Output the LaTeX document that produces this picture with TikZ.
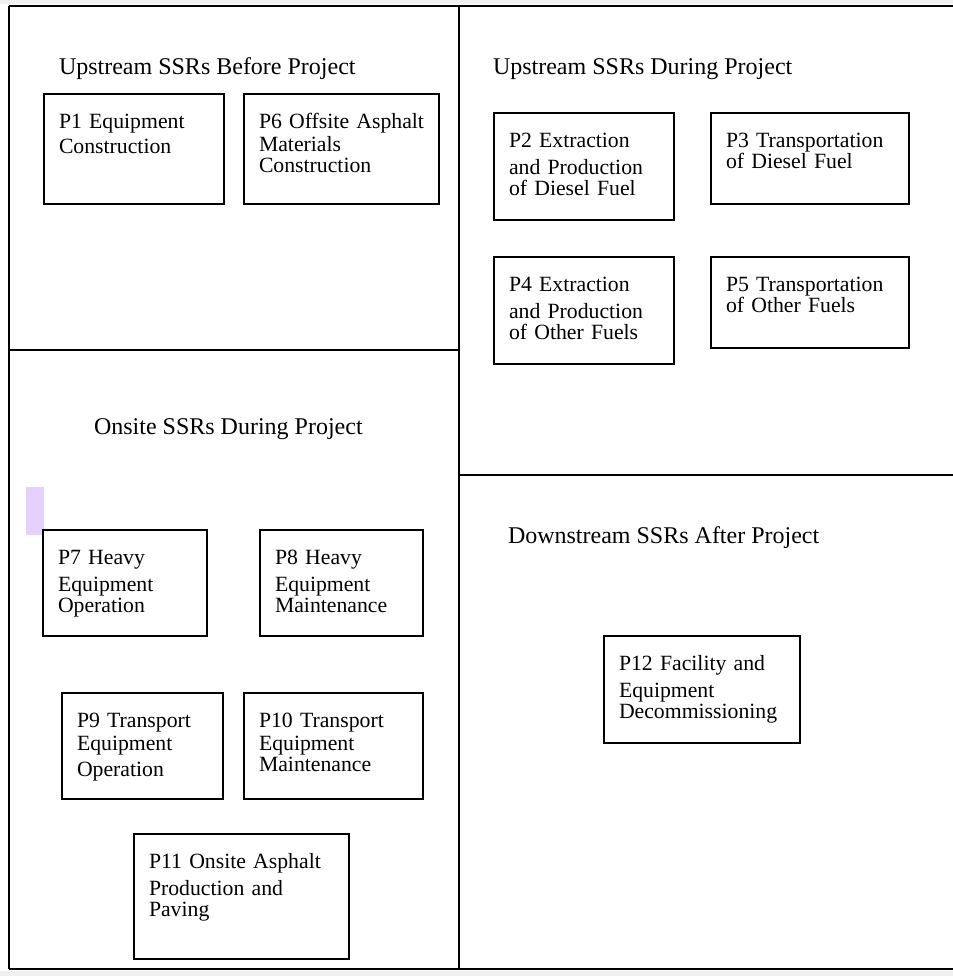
\documentclass[tikz,border=0pt]{standalone}
\usepackage{fontspec}
\setmainfont{Liberation Serif}
\definecolor{mylilac}{RGB}{228, 210, 252}
\tikzset{every picture/.style={line width=1.5pt}}
\tikzset{
  procbox/.style 2 args={draw, line width=1.5pt, anchor=north west, align=left,
    inner xsep=0pt, inner ysep=0pt, font=\fontsize{16.3}{15.75}\selectfont,
    execute at begin node={\leftskip=11.25pt\relax},
    text width={#1*0.75pt}, text height=25.5pt, text depth={#2*0.75pt-25.5pt}},
  grouptitle/.style={anchor=base west, inner sep=0pt, font=\fontsize{18}{21}\selectfont}
}

\begin{document}
\begin{tikzpicture}[x=0.75pt,y=0.75pt,yscale=-1,xscale=1]
\useasboundingbox (0,0) rectangle (953,976);

%Shape: grey page edges
\fill [gray!12] (0,0) rectangle (953,4);
\fill [gray!12] (0,971) rectangle (953,976);

%Shape: Frame lines
\draw (9,6) -- (953,6);
\draw (9,6) -- (9,969);
\draw (459,6) -- (459,969);
\draw (9,350) -- (459,350);
\draw (459,475) -- (953,475);
\draw (9,969) -- (953,969);

%Shape: Rectangle (lilac mark)
\fill [mylilac] (26,487) rectangle (44,535);

% Text Node
\node [grouptitle] (tbefore) at (58,74) {Upstream SSRs Before Project};
% Text Node
\node [grouptitle] (tduring) at (492,74) {Upstream SSRs During Project};
% Text Node
\node [grouptitle] (tonsite) at (93,434) {Onsite SSRs During Project};
% Text Node
\node [grouptitle] (tafter) at (507,543) {Downstream SSRs After Project};

%Shape: Upstream before
\node [procbox={180}{110}] (p1) at (43,93) {P1 Equipment\\[3pt] Construction};
\node [procbox={195}{110}] (p6) at (243,93) {P6 Offsite Asphalt\\[2pt] Materials\\ Construction};

%Shape: Upstream during
\node [procbox={180}{107}] (p2) at (493,112) {P2 Extraction\\[4.5pt] and Production\\ of Diesel Fuel};
\node [procbox={198}{91}] (p3) at (710,112) {P3 Transportation\\ of Diesel Fuel};
\node [procbox={180}{107}] (p4) at (493,256) {P4 Extraction\\[4.5pt] and Production\\ of Other Fuels};
\node [procbox={198}{91}] (p5) at (710,256) {P5 Transportation\\ of Other Fuels};

%Shape: Onsite during
\node [procbox={164}{106}] (p7) at (42,529) {P7 Heavy\\[4.5pt] Equipment\\ Operation};
\node [procbox={163}{106}] (p8) at (259,529) {P8 Heavy\\[4.5pt] Equipment\\ Maintenance};
\node [procbox={161}{106}] (p9) at (61,692) {P9 Transport\\[2pt] Equipment\\[3.5pt] Operation};
\node [procbox={179}{106}] (p10) at (243,692) {P10 Transport\\[2pt] Equipment\\ Maintenance};
\node [procbox={215}{125}] (p11) at (133,833) {P11 Onsite Asphalt\\[4.5pt] Production and\\ Paving};

%Shape: Downstream after
\node [procbox={196}{107}] (p12) at (603,635) {P12 Facility and\\[4.5pt] Equipment\\ Decommissioning};

\end{tikzpicture}
\end{document}
